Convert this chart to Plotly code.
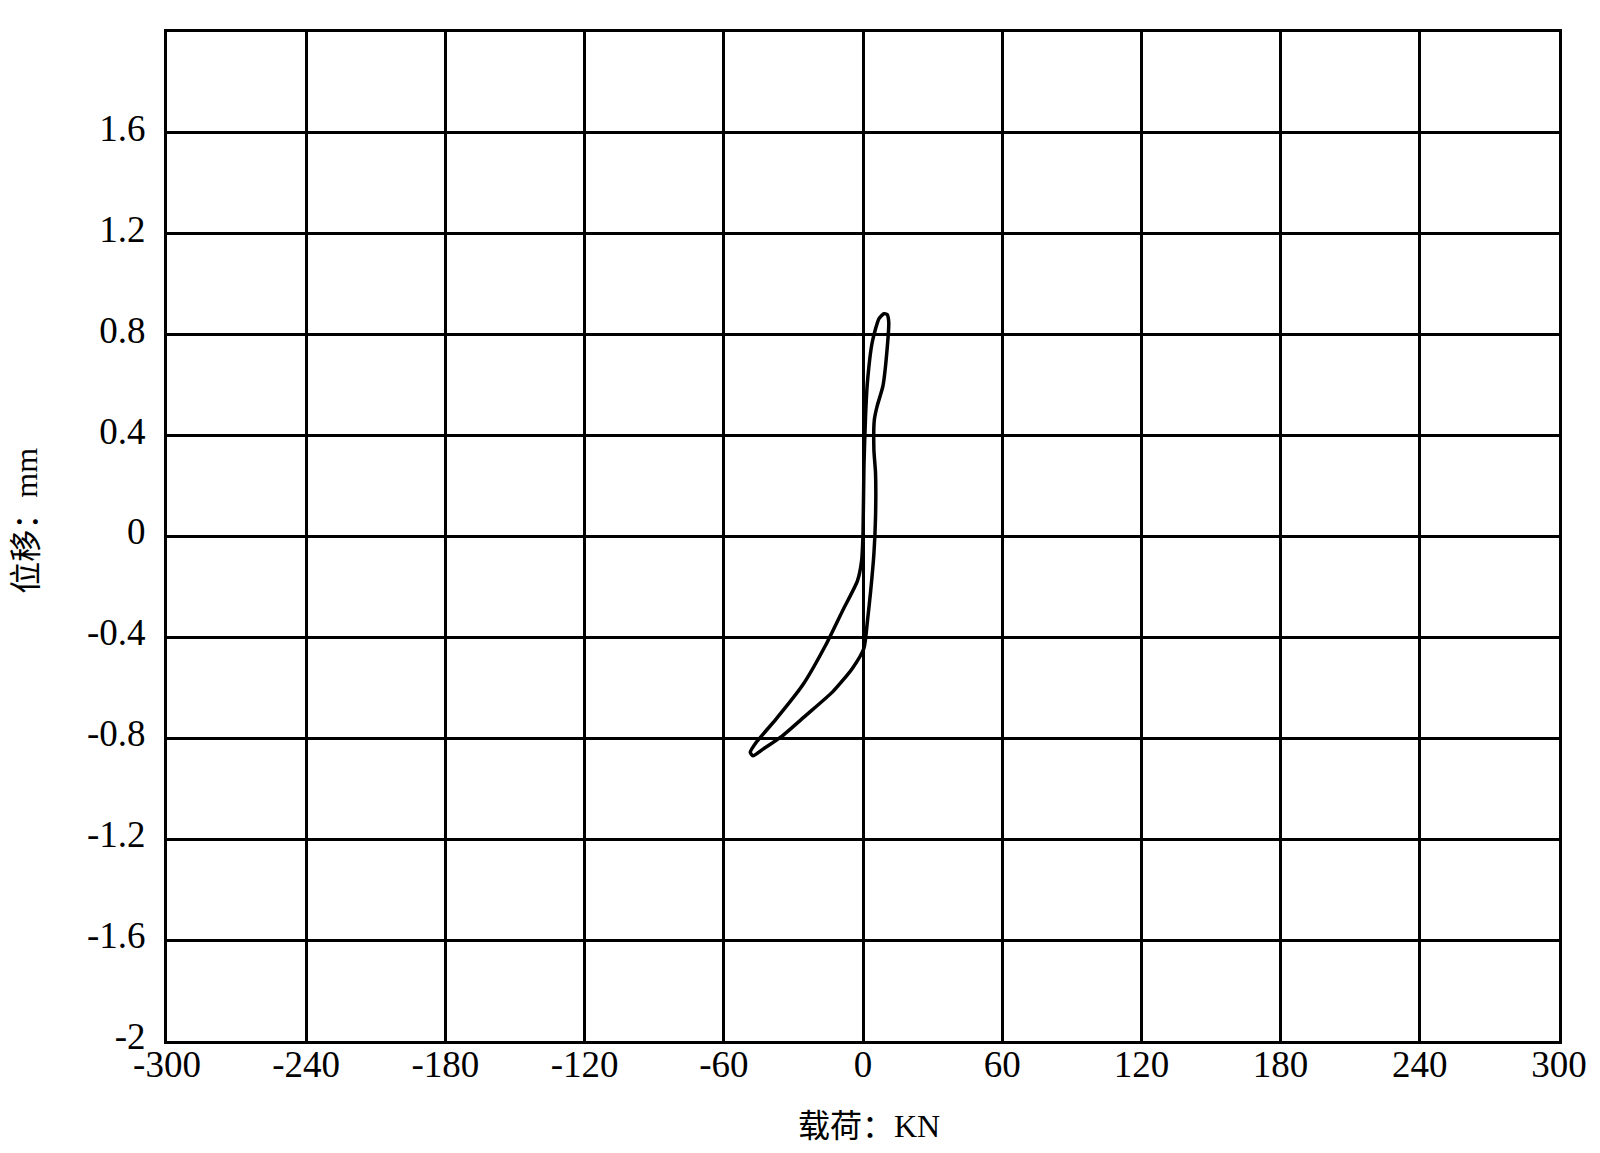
import plotly.graph_objects as go

# hysteresis loop: load (KN) vs displacement (mm)
load = [10.4, 11.1, 10.4, 8.6, 6.1, 4.9, 4.7, 5.4, 5.4, 4.7, 3.3, 1.9, 0.4,
        -4.6, -13.1, -24.6, -34.6, -43.1, -47.4, -48.6, -46.0, -37.4, -26.0,
        -16.0, -8.9, -2.4, -0.6, 0.0, 0.4, 1.1, 1.9, 4.0, 6.9, 9.0, 10.4]
disp = [0.880, 0.850, 0.744, 0.597, 0.517, 0.464, 0.344, 0.251, 0.077, -0.069,
        -0.216, -0.336, -0.443, -0.523, -0.616, -0.709, -0.789, -0.843, -0.869,
        -0.856, -0.816, -0.723, -0.589, -0.429, -0.296, -0.176, -0.096, 0.011,
        0.277, 0.477, 0.611, 0.771, 0.864, 0.883, 0.880]

x_ticks = [-300, -240, -180, -120, -60, 0, 60, 120, 180, 240, 300]
y_ticks = [-2, -1.6, -1.2, -0.8, -0.4, 0, 0.4, 0.8, 1.2, 1.6, 2]

fig = go.Figure()
fig.add_trace(
    go.Scatter(
        x=load,
        y=disp,
        mode="lines",
        line=dict(color="black", width=3.5, shape="spline", smoothing=0.6),
        hoverinfo="skip",
    )
)
# invisible copy so the label-only axis (x2) gets drawn
fig.add_trace(
    go.Scatter(
        x=load,
        y=disp,
        xaxis="x2",
        mode="lines",
        line=dict(color="rgba(0,0,0,0)", width=0),
        hoverinfo="skip",
    )
)

tick_font = dict(family="Liberation Serif, Times New Roman, serif", size=37, color="black")
axis_style = dict(
    showgrid=True,
    gridcolor="black",
    gridwidth=3,
    zeroline=False,
    showline=True,
    linecolor="black",
    linewidth=3,
    mirror=True,
    ticks="",
    automargin=False,
    tickfont=tick_font,
)

fig.update_xaxes(range=[-300, 300], tickvals=x_ticks, showticklabels=False, **axis_style)
fig.update_yaxes(range=[-2, 2], tickvals=y_ticks, ticktext=[f"{v:g}" for v in y_ticks],
                 ticklabelstandoff=11, ticklabelshift=-5, **axis_style)

# labels for the load axis sit closer to the frame than plotly's default spacing
fig.update_layout(
    xaxis2=dict(
        overlaying="x", anchor="free", position=0.002, side="bottom",
        range=[-300, 300], tickvals=x_ticks, ticktext=[str(v) for v in x_ticks],
        showgrid=False, zeroline=False, showline=False, ticks="",
        automargin=False, tickfont=tick_font,
    )
)

title_font = dict(family="Liberation Serif, Noto Sans CJK SC, serif", size=32, color="black")
fig.add_annotation(text="载荷：KN", xref="paper", yref="paper", x=0.504, y=-0.084,
                   showarrow=False, font=title_font, xanchor="center", yanchor="middle")
fig.add_annotation(text="位移：mm", xref="paper", yref="paper", x=-0.101, y=0.516,
                   showarrow=False, font=title_font, textangle=-90,
                   xanchor="center", yanchor="middle")

# page body adds a small offset, so margins are shifted to compensate
fig.update_layout(
    width=1600,
    height=1153,
    margin=dict(l=159, r=49, t=24, b=120),
    plot_bgcolor="white",
    paper_bgcolor="white",
    showlegend=False,
)

fig.write_html("out.html")
